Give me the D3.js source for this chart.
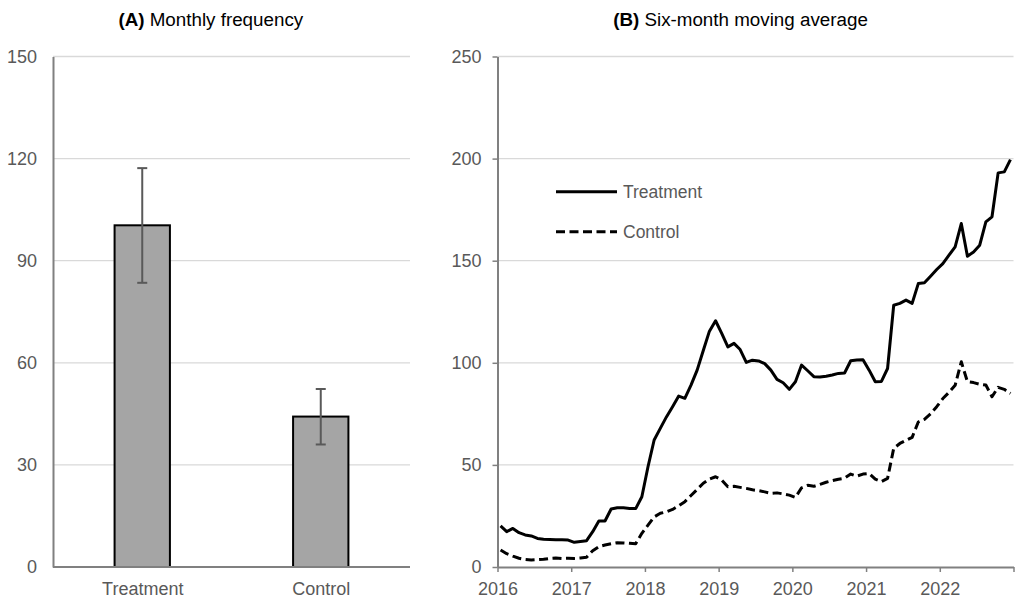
<!DOCTYPE html>
<html>
<head>
<meta charset="utf-8">
<script src="https://cdn.jsdelivr.net/npm/d3@7"></script>
<style>
  html, body { margin: 0; padding: 0; background: #fff; }
  svg { display: block; font-family: "Liberation Sans", Arial, sans-serif; }
</style>
</head>
<body>
<svg id="chart" width="1015" height="600"></svg>
<script>
// ---- Panel A data ----
const barCategories = ["Treatment", "Control"];
const barMeans = [100.4, 44.2];
const barErrLow = [83.5, 36.0];
const barErrHigh = [117.2, 52.3];
const barTicks = [0, 30, 60, 90, 120, 150];

// ---- Panel B data (monthly, Jan 2016 - Dec 2022) ----
const yearLabels = ["2016", "2017", "2018", "2019", "2020", "2021", "2022"];
const lineTicks = [0, 50, 100, 150, 200, 250];
const seriesNames = ["Treatment", "Control"];
const treatment = [
  20.1, 17.3, 18.9, 16.8, 15.7, 15.2, 14.0, 13.6, 13.5, 13.4, 13.3, 13.2,
  12.1, 12.5, 12.9, 17.3, 22.5, 22.5, 28.4, 29.0, 29.0, 28.7, 28.6, 34.4,
  49.1, 62.2, 67.9, 73.5, 78.5, 83.7, 82.6, 89.1, 96.4, 106.0, 115.5, 120.6,
  114.4, 107.8, 109.5, 106.5, 100.2, 101.3, 100.9, 99.6, 96.4, 91.9, 90.2, 87.0,
  90.7, 98.9, 96.1, 93.2, 93.0, 93.4, 94.0, 94.8, 95.0, 101.0, 101.4, 101.5,
  96.4, 90.7, 90.9, 97.2, 128.2, 129.1, 130.7, 129.1, 138.8, 139.2, 142.4, 145.7,
  148.6, 152.7, 156.8, 168.2, 152.2, 154.3, 157.6, 169.0, 171.5, 193.0, 193.5, 199.5
];
const control = [
  8.3, 6.5, 5.3, 4.3, 3.7, 3.4, 3.6, 3.8, 4.2, 4.4, 4.2, 4.3,
  4.2, 4.4, 4.8, 8.0, 10.0, 10.8, 11.4, 11.9, 11.8, 11.6, 11.4, 16.5,
  20.5, 24.5, 26.3, 27.0, 28.2, 30.0, 32.0, 35.0, 38.0, 41.0, 43.0, 44.2,
  42.6, 39.3, 39.5, 39.0, 38.5, 37.8, 37.4, 36.8, 36.1, 36.3, 35.8, 35.2,
  34.1, 38.8, 40.0, 39.5, 40.5, 41.5, 42.3, 43.0, 43.5, 45.5, 44.5, 45.5,
  45.8, 43.0, 41.8, 43.4, 58.1, 60.5, 62.0, 63.5, 71.0, 72.3, 75.0, 78.5,
  82.5, 85.5, 89.0, 100.5, 90.7, 90.3, 89.5, 89.1, 83.4, 88.0, 87.0, 85.0
];

const svg = d3.select("#chart");
const LABEL = "#595959", AXIS = "#808080", GRID = "#d9d9d9";

// ================= Panel A =================
const A = { left: 53, right: 410, top: 56.5, bottom: 567 };
const yA = d3.scaleLinear().domain([0, 150]).range([A.bottom, A.top]);
const xA = d3.scalePoint().domain(barCategories).range([A.left, A.right]).padding(0.5);
const barW = xA.step() * 0.31;
const gA = svg.append("g");

gA.append("g").selectAll("line").data(barTicks.filter(d => d > 0)).join("line")
  .attr("x1", A.left).attr("x2", A.right)
  .attr("y1", d => yA(d)).attr("y2", d => yA(d))
  .attr("stroke", GRID).attr("stroke-width", 1.3);

const barData = barCategories.map((c, i) => ({ c, m: barMeans[i], lo: barErrLow[i], hi: barErrHigh[i] }));
gA.append("g").selectAll("rect").data(barData).join("rect")
  .attr("x", d => xA(d.c) - barW / 2)
  .attr("width", barW)
  .attr("y", d => yA(d.m))
  .attr("height", d => yA(0) - yA(d.m))
  .attr("fill", "#a5a5a5").attr("stroke", "#000").attr("stroke-width", 2);

const eb = gA.append("g").selectAll("g").data(barData).join("g")
  .attr("stroke", "#595959").attr("stroke-width", 2);
eb.append("line").attr("x1", d => xA(d.c)).attr("x2", d => xA(d.c))
  .attr("y1", d => yA(d.lo)).attr("y2", d => yA(d.hi));
eb.append("line").attr("x1", d => xA(d.c) - 5).attr("x2", d => xA(d.c) + 5)
  .attr("y1", d => yA(d.lo)).attr("y2", d => yA(d.lo));
eb.append("line").attr("x1", d => xA(d.c) - 5).attr("x2", d => xA(d.c) + 5)
  .attr("y1", d => yA(d.hi)).attr("y2", d => yA(d.hi));

const axA = gA.append("g").attr("transform", `translate(${A.left},0)`)
  .call(d3.axisLeft(yA).tickValues(barTicks).tickSize(0).tickSizeOuter(0).tickPadding(16));
const axAx = gA.append("g").attr("transform", `translate(0,${A.bottom})`)
  .call(d3.axisBottom(xA).tickSize(0).tickSizeOuter(0).tickPadding(15));
[axA, axAx].forEach(ax => {
  ax.select(".domain").attr("stroke", AXIS).attr("stroke-width", 2);
  ax.selectAll("text").attr("fill", LABEL).attr("font-size", 18).attr("font-family", "Liberation Sans, Arial, sans-serif");
});
axAx.select(".domain").attr("d", `M${A.left},0H${A.right}`);

const tA = svg.append("text").attr("x", 210.8).attr("y", 26).attr("text-anchor", "middle")
  .attr("font-size", 18.8).attr("fill", "#000");
tA.append("tspan").attr("font-weight", "bold").text("(A)");
tA.append("tspan").text(" Monthly frequency");

// ================= Panel B =================
const B = { left: 497.5, right: 1013.5, top: 56.5, bottom: 567 };
const yB = d3.scaleLinear().domain([0, 250]).range([B.bottom, B.top]);
const xB = d3.scaleLinear().domain([0, yearLabels.length * 12]).range([B.left, B.right]);
const gB = svg.append("g");

gB.append("g").selectAll("line").data(lineTicks.filter(d => d > 0)).join("line")
  .attr("x1", B.left).attr("x2", B.right)
  .attr("y1", d => yB(d)).attr("y2", d => yB(d))
  .attr("stroke", GRID).attr("stroke-width", 1.3);

const line = d3.line().x((d, i) => xB(i + 0.5)).y(d => yB(d));
gB.append("path").datum(control).attr("d", line)
  .attr("fill", "none").attr("stroke", "#000").attr("stroke-width", 3)
  .attr("stroke-dasharray", "9,4.5").attr("stroke-linejoin", "round");
gB.append("path").datum(treatment).attr("d", line)
  .attr("fill", "none").attr("stroke", "#000").attr("stroke-width", 3)
  .attr("stroke-linejoin", "round");

const axB = gB.append("g").attr("transform", `translate(${B.left},0)`)
  .call(d3.axisLeft(yB).tickValues(lineTicks).tickSize(5).tickSizeOuter(0).tickPadding(11));
const axBx = gB.append("g").attr("transform", `translate(0,${B.bottom})`)
  .call(d3.axisBottom(xB).tickValues(d3.range(0, yearLabels.length * 12 + 1, 12))
    .tickFormat((d, i) => yearLabels[i] || "").tickSize(5).tickSizeOuter(0).tickPadding(10));
[axB, axBx].forEach(ax => {
  ax.select(".domain").attr("stroke", AXIS).attr("stroke-width", 2);
  ax.selectAll(".tick line").attr("stroke", AXIS).attr("stroke-width", 1.5);
  ax.selectAll("text").attr("fill", LABEL).attr("font-size", 18).attr("font-family", "Liberation Sans, Arial, sans-serif");
});

const tB = svg.append("text").attr("x", 740.5).attr("y", 26).attr("text-anchor", "middle")
  .attr("font-size", 18.8).attr("fill", "#000");
tB.append("tspan").attr("font-weight", "bold").text("(B)");
tB.append("tspan").text(" Six-month moving average");

// Legend
const legend = gB.append("g").selectAll("g").data(seriesNames).join("g")
  .attr("transform", (d, i) => `translate(556,${191.7 + i * 40})`);
legend.append("line").attr("x1", 0).attr("x2", 61).attr("y1", 0).attr("y2", 0)
  .attr("stroke", "#000").attr("stroke-width", 3)
  .attr("stroke-dasharray", (d, i) => i === 1 ? "9,4.5" : null);
legend.append("text").attr("x", 67).attr("y", 0).attr("dy", "0.35em")
  .attr("font-size", 17.5).attr("fill", LABEL).text(d => d);
</script>
</body>
</html>
